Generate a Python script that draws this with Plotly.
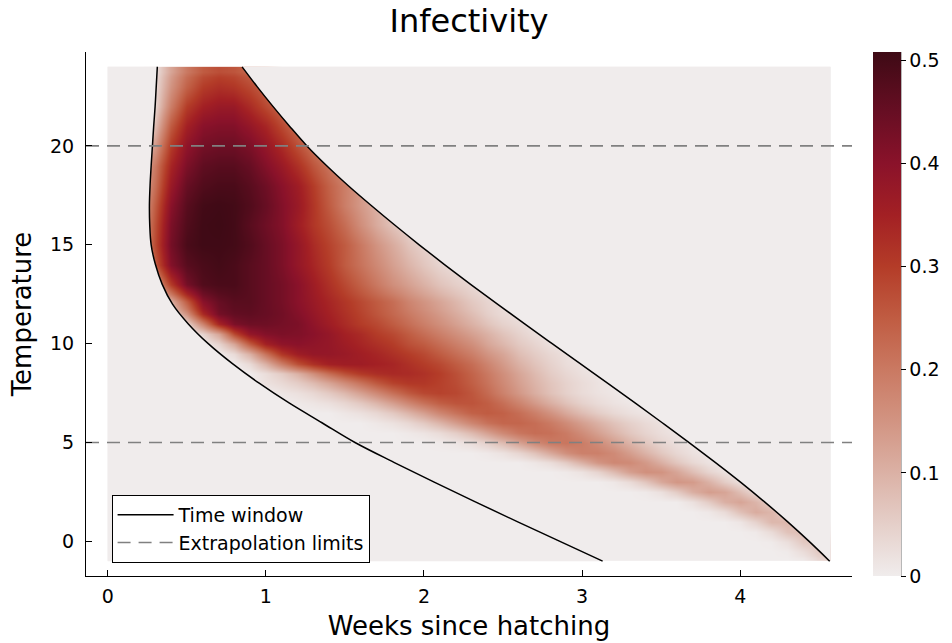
import plotly.graph_objects as go

# ---- data -------------------------------------------------------------
# week grid of the infectivity surface
weeks = [0.0, 0.1, 0.2, 0.3, 0.4, 0.5, 0.6, 0.7, 0.8, 0.9,
         1.0, 1.1, 1.2, 1.3, 1.4, 1.5, 1.6, 1.7, 1.8, 1.9,
         2.0, 2.1, 2.2, 2.3, 2.4, 2.5, 2.6, 2.7, 2.8, 2.9,
         3.0, 3.1, 3.2, 3.3, 3.4, 3.5, 3.6, 3.7, 3.8, 3.9,
         4.0, 4.1, 4.2, 4.3, 4.4, 4.5, 4.57]

# temperature rows of the surface (finer where the band is narrow)
temps = [-1, -0.5, 0, 0.5, 1, 1.5, 2, 2.5, 3, 3.5, 4, 4.5, 5, 5.5, 6, 6.5,
         7, 7.5, 8, 8.5, 9, 9.5, 10, 10.5, 11, 11.5, 12,
         13, 14, 15, 16, 17, 18, 19, 20, 21, 22, 23, 24]

# infectivity per temperature row: week of the first listed value,
# then the values on consecutive grid weeks (zero elsewhere)
infect_onset = [4.4, 4.3, 4.2, 4.1, 4.0, 3.8, 3.7, 3.4, 3.2, 2.9, 2.7, 2.4, 2.1,
                1.9, 1.7, 1.5, 1.2, 1.1, 1.0, 1.0, 0.9, 0.8, 0.7, 0.6, 0.4, 0.4,
                0.3, 0.2, 0.2, 0.1, 0.1, 0.1, 0.1, 0.1, 0.1, 0.2, 0.2, 0.3, 0.3]
infect_values = [
    [.008, .037, .05],
    [.004, .027, .059, .051],
    [.003, .023, .062, .062, .034],
    [.005, .029, .072, .078, .037, .013],
    [.011, .044, .089, .089, .044, .011],
    [.007, .029, .074, .109, .091, .042, .011],
    [.019, .055, .102, .122, .093, .046, .014, .003],
    [.005, .02, .055, .104, .134, .121, .077, .035, .011],
    [.008, .028, .065, .114, .146, .138, .099, .054, .022, .007],
    [.005, .016, .041, .083, .13, .158, .152, .12, .078, .041, .018, .006],
    [.01, .026, .057, .101, .147, .173, .169, .141, .102, .064, .034, .016, .006],
    [.006, .017, .038, .071, .115, .159, .186, .187, .168, .134, .096, .062, .036,
     .018, .008, .003],
    [.004, .011, .024, .048, .082, .124, .167, .197, .205, .193, .166, .132, .096,
     .064, .039, .022, .011, .005],
    [.006, .014, .028, .052, .085, .127, .17, .204, .22, .215, .196, .165, .13,
     .095, .064, .041, .024, .013, .006],
    [.008, .018, .034, .059, .093, .134, .176, .212, .232, .233, .22, .197, .166,
     .132, .1, .071, .048, .03, .018, .01, .005],
    [.01, .02, .036, .06, .093, .13, .175, .21, .24, .25, .242, .22, .189, .152,
     .114, .081, .054, .034, .02, .011, .006],
    [.006, .012, .021, .038, .061, .093, .132, .174, .213, .245, .262, .263, .247,
     .218, .181, .14, .103, .071, .046, .028, .016, .008],
    [.011, .02, .035, .058, .089, .128, .171, .215, .254, .281, .29, .282, .259,
     .225, .184, .143, .105, .072, .047, .029, .017, .01],
    [.018, .032, .053, .083, .12, .165, .21, .255, .29, .307, .308, .293, .275,
     .245, .21, .17, .13, .095, .066, .044, .028, .016, .008],
    [.025, .055, .10, .16, .22, .27, .305, .325, .333, .33, .318, .298, .27, .237,
     .20, .16, .12, .085, .055, .035, .02, .01],
    [.03, .10, .19, .27, .32, .35, .36, .36, .35, .34, .32, .30, .28, .25, .22,
     .18, .14, .10, .07, .045, .025, .015],
    [.03, .10, .21, .31, .36, .38, .38, .37, .355, .34, .32, .30, .28, .25, .22,
     .19, .15, .12, .08, .055, .035, .02, .01],
    [.04, .12, .25, .35, .39, .40, .39, .38, .36, .34, .32, .30, .27, .25, .22,
     .19, .16, .12, .09, .06, .04, .02, .01],
    [.04, .12, .28, .38, .41, .42, .415, .40, .38, .35, .33, .30, .28, .25, .22,
     .19, .16, .13, .10, .07, .045, .025, .015],
    [.01, .04, .18, .34, .42, .44, .44, .43, .42, .39, .36, .33, .30, .28, .25,
     .22, .19, .16, .13, .10, .07, .045, .03, .015],
    [.03, .15, .33, .43, .455, .46, .45, .435, .41, .38, .35, .32, .29, .26, .23,
     .20, .17, .14, .11, .08, .05, .03, .02],
    [.02, .10, .25, .40, .45, .47, .47, .45, .43, .40, .37, .34, .31, .28, .25,
     .22, .18, .15, .12, .09, .06, .04, .025, .015],
    [.02, .12, .30, .43, .48, .49, .49, .47, .45, .43, .40, .36, .32, .28, .24,
     .20, .16, .13, .10, .07, .05, .035, .02],
    [.10, .25, .41, .47, .49, .50, .49, .47, .45, .42, .38, .34, .30, .25, .21,
     .17, .13, .095, .065, .04, .025, .015],
    [.02, .13, .28, .43, .49, .505, .505, .50, .48, .45, .42, .38, .33, .29, .25,
     .20, .15, .11, .07, .045, .025],
    [.02, .12, .27, .42, .48, .505, .508, .50, .47, .44, .41, .36, .31, .27, .22,
     .16, .11, .07, .04, .02],
    [.02, .11, .25, .40, .47, .50, .505, .50, .48, .45, .41, .37, .31, .25, .19,
     .14, .10, .06, .035],
    [.02, .10, .22, .37, .45, .48, .49, .49, .47, .44, .40, .36, .30, .24, .19,
     .14, .10],
    [.02, .09, .20, .34, .42, .46, .47, .47, .45, .41, .37, .32, .26, .21, .16, .12],
    [.01, .06, .14, .30, .39, .43, .44, .44, .42, .38, .33, .27, .21, .16],
    [.03, .08, .25, .35, .40, .41, .41, .38, .34, .28, .22, .16],
    [.01, .04, .19, .30, .35, .37, .37, .33, .28, .23, .17],
    [.03, .15, .24, .30, .32, .31, .28, .24, .19],
    [.02, .12, .20, .25, .27, .26, .23, .19],
]

# time window (start / end, in weeks) by temperature
window_temps = [-1, 0, 1, 2, 3, 4, 5, 6, 7, 8, 9, 10, 11, 12,
                13, 14, 15, 16, 17, 18, 19, 20, 21, 22, 23, 24]
window_start = [3.13, 2.86, 2.59, 2.325, 2.065, 1.81, 1.564, 1.355, 1.147, 0.958,
                0.787, 0.636, 0.51, 0.41, 0.345, 0.302, 0.275, 0.266, 0.264,
                0.268, 0.275, 0.283, 0.291, 0.300, 0.307, 0.314]
window_end = [4.566, 4.436, 4.299, 4.154, 4.002, 3.842, 3.677, 3.507, 3.335, 3.161,
              2.986, 2.811, 2.637, 2.465, 2.295, 2.13, 1.97, 1.815, 1.665, 1.52,
              1.385, 1.26, 1.15, 1.045, 0.945, 0.85]

extrapolation_limits = [5, 20]
colorbar_ticks = [0, 0.1, 0.2, 0.3, 0.4, 0.5]
week_ticks = [0, 1, 2, 3, 4]
temp_ticks = [0, 5, 10, 15, 20]

# ---- build the heatmap matrix ------------------------------------------
z = []
for onset, vals in zip(infect_onset, infect_values):
    row = [0.0] * len(weeks)
    i0 = min(range(len(weeks)), key=lambda k: abs(weeks[k] - onset))
    for k, v in enumerate(vals):
        row[i0 + k] = v
    z.append(row)
zmax = max(max(r) for r in z)


def cell_edges(centres):
    mids = [(a + b) / 2 for a, b in zip(centres[:-1], centres[1:])]
    return [centres[0]] + mids + [centres[-1]]


x_edges = cell_edges(weeks)
y_edges = cell_edges(temps)

# axis limits: data extent widened by 3% on each side
xspan = weeks[-1] - weeks[0]
yspan = temps[-1] - temps[0]
x_range = [weeks[0] - 0.03 * xspan, weeks[-1] + 0.03 * xspan]
y_range = [temps[0] - 0.03 * yspan, temps[-1] + 0.03 * yspan]

# sequential "amp" style colour ramp
ZERO = "rgb(240,236,236)"
ramp_values = [0.0, 0.05, 0.10, 0.15, 0.20, 0.25, 0.30, 0.35, 0.40, 0.45, zmax]
ramp_colors = [ZERO, "rgb(229,207,201)", "rgb(219,177,165)", "rgb(210,148,130)",
               "rgb(202,121,98)", "rgb(192,92,66)", "rgb(180,60,40)",
               "rgb(163,32,36)", "rgb(138,18,42)", "rgb(103,14,35)", "rgb(62,10,21)"]
colorscale = [[v / zmax, c] for v, c in zip(ramp_values, ramp_colors)]

FONT = "DejaVu Sans"
TICK_SIZE = 19

fig = go.Figure()

fig.add_trace(go.Heatmap(
    x=x_edges, y=y_edges, z=z, zsmooth="best",
    colorscale=colorscale, zmin=0, zmax=zmax,
    hoverinfo="skip",
    colorbar=dict(
        x=1.0273, xanchor="left", xpad=0, ypad=0,
        y=0.5, yanchor="middle", len=1.0, lenmode="fraction",
        thickness=28, thicknessmode="pixels",
        outlinewidth=0,
        tickvals=colorbar_ticks, ticks="outside", ticklen=5,
        tickcolor="black", tickwidth=1,
        tickfont=dict(size=TICK_SIZE, color="black", family=FONT),
    ),
))

# outside the time window infectivity is zero
fig.add_trace(go.Scatter(
    x=window_start + [weeks[0], weeks[0]],
    y=window_temps + [window_temps[-1], window_temps[0]],
    mode="lines", fill="toself", fillcolor=ZERO, line=dict(width=0),
    showlegend=False, hoverinfo="skip",
))
fig.add_trace(go.Scatter(
    x=window_end + [weeks[-1], weeks[-1]],
    y=window_temps + [window_temps[-1], window_temps[0]],
    mode="lines", fill="toself", fillcolor=ZERO, line=dict(width=0),
    showlegend=False, hoverinfo="skip",
))

# time window boundaries
fig.add_trace(go.Scatter(
    x=window_start + [None] + window_end,
    y=window_temps + [None] + window_temps,
    mode="lines", name="Time window",
    line=dict(color="black", width=1.5, shape="spline", smoothing=1.0),
    hoverinfo="skip",
))

# extrapolation limits
hx, hy = [], []
for lim in extrapolation_limits:
    hx += [x_range[0], x_range[1], None]
    hy += [lim, lim, None]
fig.add_trace(go.Scatter(
    x=hx, y=hy, mode="lines", name="Extrapolation limits",
    line=dict(color="rgb(128,128,128)", width=1.6, dash="13px,8px"),
    hoverinfo="skip",
))

axis_common = dict(
    showgrid=False, zeroline=False, showline=True, linecolor="black",
    linewidth=1, ticks="inside", ticklen=6, tickcolor="black", tickwidth=1,
    tickfont=dict(size=TICK_SIZE, color="black", family=FONT),
    mirror=False, automargin=False,
)

fig.update_layout(
    width=952, height=643,
    margin=dict(l=86, r=97, t=52, b=67),
    paper_bgcolor="white", plot_bgcolor="white",
    font=dict(family=FONT, color="black"),
    title=dict(text="Infectivity", x=0.5, xref="paper", xanchor="center",
               y=1 - 21 / 643, yref="container", yanchor="middle",
               font=dict(size=32, color="black", family=FONT)),
    xaxis=dict(range=x_range, tickvals=week_ticks, ticklabelstandoff=3,
               title=dict(text="Weeks since hatching", standoff=11,
                          font=dict(size=26, color="black", family=FONT)),
               **axis_common),
    yaxis=dict(range=y_range, tickvals=temp_ticks, ticklabelstandoff=7,
               title=dict(text="Temperature", standoff=10,
                          font=dict(size=26, color="black", family=FONT)),
               **axis_common),
    legend=dict(x=0.0334, y=0.1546, xanchor="left", yanchor="top",
                bgcolor="white", bordercolor="black", borderwidth=1,
                font=dict(size=TICK_SIZE, color="black", family=FONT),
                itemwidth=56, tracegroupgap=0),
    shapes=[dict(type="line", xref="paper", yref="paper",
                 x0=1.0637, x1=1.0637, y0=0, y1=1,
                 line=dict(color="black", width=1))],
)

fig.write_html("out.html")
